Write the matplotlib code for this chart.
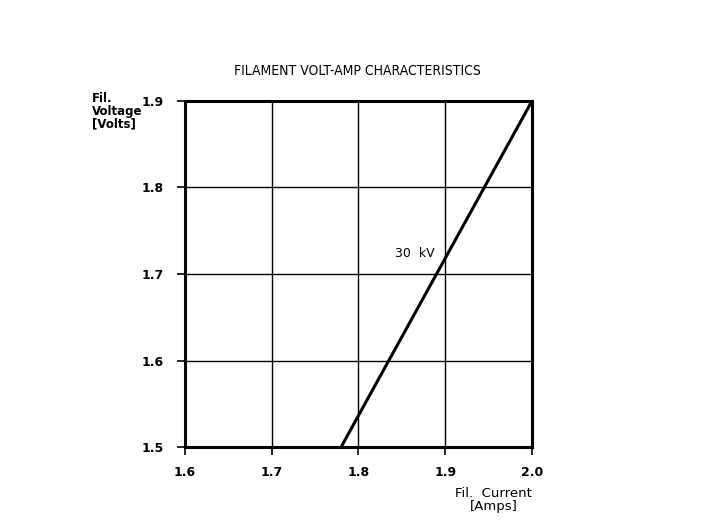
import matplotlib.pyplot as plt

# Data
current = [1.78, 2.0]      # Fil. current [Amps]
voltage = [1.5, 1.9]       # Fil. voltage [Volts]
curve_label = '30  kV'
x_ticks = [1.6, 1.7, 1.8, 1.9, 2.0]
y_ticks = [1.5, 1.6, 1.7, 1.8, 1.9]

fig = plt.figure(figsize=(7.15, 5.23), dpi=100)
ax = fig.add_axes([0.2587, 0.1453, 0.4853, 0.6616])

ax.plot(current, voltage, color='black', lw=2.2, solid_capstyle='butt')
ax.set_xlim(1.6, 2.0)
ax.set_ylim(1.5, 1.9)
ax.set_xticks(x_ticks)
ax.set_yticks(y_ticks)
ax.set_xticklabels([f'{v:.1f}' for v in x_ticks], fontsize=9, fontweight='bold')
ax.set_yticklabels([f'{v:.1f}' for v in y_ticks], fontsize=9, fontweight='bold')
ax.tick_params(length=6, width=1.2, color='black')
ax.tick_params(axis='y', pad=9)
ax.tick_params(axis='x', pad=8)
ax.grid(True, color='black', lw=1.0)
for s in ax.spines.values():
    s.set_linewidth(2.2)

ax.text(1.888, 1.724, curve_label, ha='right', va='center', fontsize=9)

fig.text(0.5, 0.864, 'FILAMENT VOLT-AMP CHARACTERISTICS', ha='center', va='center',
         fontsize=10, fontstretch='condensed')
fig.text(0.128, 0.824, 'Fil.\nVoltage\n[Volts]', ha='left', va='top',
         fontsize=8.5, fontweight='bold', linespacing=0.95)
fig.text(0.744, 0.069, 'Fil.  Current\n[Amps]', ha='right', va='top',
         fontsize=9.5, multialignment='center', linespacing=1.0)

fig.savefig('out.png', dpi=100)
